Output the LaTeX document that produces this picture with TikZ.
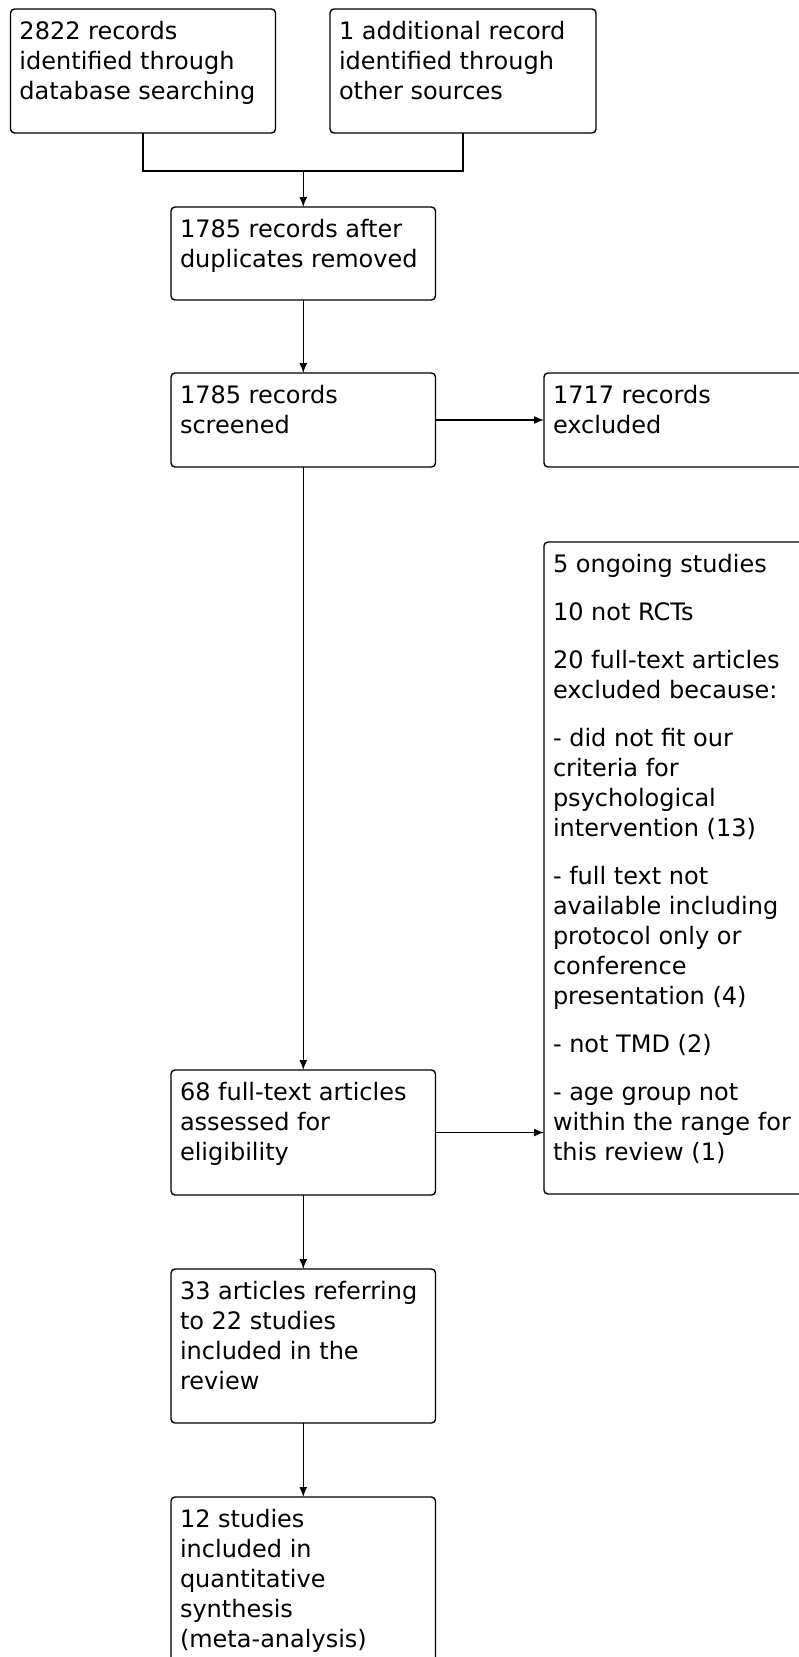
\documentclass[tikz,border=0pt]{standalone}
\usepackage{fontspec}
\setmainfont{DejaVu Sans}
\usetikzlibrary{arrows.meta}
\newcommand{\bxtext}[3]{\parbox[b][#2][t]{#1}{\fontsize{24}{30}\selectfont\raggedright\rule{0pt}{30pt}#3}}
\tikzset{
  flowbox/.style={draw=black, line width=1.4pt, rounded corners=4pt, fill=white,
    anchor=north west, inner xsep=9pt, inner ysep=0pt, outer sep=0pt},
  flowarrow/.style={draw=black, line width=1.4pt, -{Latex[length=10pt,width=8pt]}},
  flowline/.style={draw=black, line width=1.4pt},
}
\begin{document}
\begin{tikzpicture}[x=1pt,y=-1pt]
\fill[white] (0,0) rectangle (798,1657);
\useasboundingbox (0,0) rectangle (798,1657);

\node[flowbox] (b1) at (10.5,9) {\bxtext{247pt}{124pt}{2822 records\\identified through\\database searching}};
\node[flowbox] (b2) at (330,9) {\bxtext{248pt}{124pt}{1 additional record\\identified through\\other sources}};
\node[flowbox] (b3) at (171,207) {\bxtext{246.5pt}{93pt}{1785 records after\\duplicates removed}};
\node[flowbox] (b4) at (171,373) {\bxtext{246.5pt}{94pt}{1785 records\\screened}};
\node[flowbox] (b5) at (544,373) {\bxtext{262pt}{94pt}{1717 records\\excluded}};
\node[flowbox] (b6) at (544,542) {\bxtext{262pt}{652pt}{5 ongoing studies\\[18pt]10 not RCTs\\[18pt]20 full-text articles\\excluded because:\\[18pt]- did not fit our\\criteria for\\psychological\\intervention (13)\\[18pt]- full text not\\available including\\protocol only or\\conference\\presentation (4)\\[18pt]- not TMD (2)\\[18pt]- age group not\\within the range for\\this review (1)}};
\node[flowbox] (b7) at (171,1070) {\bxtext{246.5pt}{125pt}{68 full-text articles\\assessed for\\eligibility}};
\node[flowbox] (b8) at (171,1269) {\bxtext{246.5pt}{154pt}{33 articles referring\\to 22 studies\\included in the\\review}};
\node[flowbox] (b9) at (171,1497) {\bxtext{246.5pt}{200pt}{12 studies\\included in\\quantitative\\synthesis\\(meta-analysis)}};

\coordinate (m) at (303.25,171);
\draw[flowline] (b1.south) |- (m) -| (b2.south);
\draw[flowarrow] (m) -- (b3.north);
\draw[flowarrow] (b3.south) -- (b4.north);
\draw[flowarrow] (b4.east) -- (b5.west);
\draw[flowarrow] (b4.south) -- (b7.north);
\draw[flowarrow] (b7.east) -- (b7.east -| b6.west);
\draw[flowarrow] (b7.south) -- (b8.north);
\draw[flowarrow] (b8.south) -- (b9.north);
\end{tikzpicture}
\end{document}
